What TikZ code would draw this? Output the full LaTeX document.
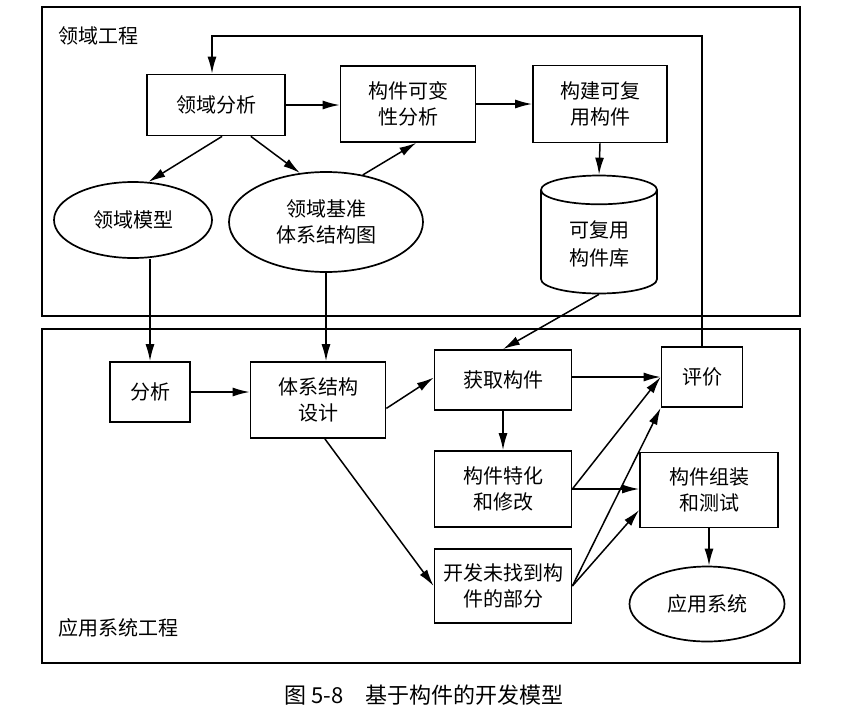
\documentclass[tikz,border=0pt]{standalone}
\usepackage{fontspec}
\newfontfamily\cjk{Noto Sans CJK SC}
\usetikzlibrary{shapes.geometric, arrows.meta, positioning, calc}
\tikzset{
    box/.style={rectangle, draw=black, line width=1.7pt, align=center, font=\cjk\fontsize{20}{26}\selectfont, inner sep=2pt},
    ell/.style={ellipse, draw=black, line width=1.7pt, align=center, font=\cjk\fontsize{20}{26}\selectfont, inner sep=0pt},
    db/.style={cylinder, shape border rotate=90, aspect=0.45, draw=black, line width=1.7pt, align=center, font=\cjk\fontsize{20}{28}\selectfont, inner sep=2pt},
    frame/.style={draw=black, line width=1.7pt},
    lbl/.style={font=\cjk\fontsize{20}{26}\selectfont, inner sep=0pt},
    arr/.style={-{Latex[length=17pt, width=9pt]}, line width=1.5pt}
}

\begin{document}
\begin{tikzpicture}[x=1pt, y=-1pt]
        \useasboundingbox (0,0) rectangle (845,720);

        % two regions
        \draw[frame] (42,7) rectangle (800,316);
        \draw[frame] (42,329) rectangle (800,663);
        \node[lbl, anchor=west] (dom) at (58,36) {领域工程};
        \node[lbl, anchor=west] (app) at (58,628) {应用系统工程};

        % domain engineering
        \node[box, minimum width=138, minimum height=61] (lyfx) at (216,105) {领域分析};
        \node[box, minimum width=135, minimum height=76] (kbx) at (408,104) {构件可变\\性分析};
        \node[box, minimum width=134, minimum height=77] (gjfy) at (600,104) {构建可复\\用构件};
        \node[ell, minimum width=158, minimum height=76] (lymx) at (133,220) {领域模型};
        \node[ell, minimum width=194, minimum height=100] (lyjz) at (326,222) {领域基准\\体系结构图};
        \node[db, minimum width=116, minimum height=118] (lib) at (599,244) {\\[-12pt]可复用\\构件库};

        % application engineering
        \node[box, minimum width=80, minimum height=60] (fx) at (150,392) {分析};
        \node[box, minimum width=135, minimum height=76] (tx) at (318,400) {体系结构\\设计};
        \node[box, minimum width=137, minimum height=60] (hq) at (503,380) {获取构件};
        \node[box, minimum width=81, minimum height=60] (pj) at (702,377) {评价};
        \node[box, minimum width=137, minimum height=76] (tz) at (503,489) {构件特化\\和修改};
        \node[box, minimum width=138, minimum height=75] (zz) at (709,490) {构件组装\\和测试};
        \node[box, minimum width=137, minimum height=74] (kf) at (503,586) {开发未找到构\\件的部分};
        \node[ell, minimum width=155, minimum height=75] (yy) at (707,604) {应用系统};

        \node[lbl, font=\cjk\fontsize{22}{26}\selectfont] (cap) at (424,695) {图 5-8\hspace{1em}基于构件的开发模型};

        \coordinate (fbtop) at (212,36);

        \draw[arr] (pj.north) |- (fbtop) -- (fbtop |- lyfx.north);
        \draw[arr] (lyfx.east) -- (lyfx.east -| kbx.west);
        \draw[arr] (kbx.east) -- (gjfy.west);
        \draw[arr] (gjfy.south) -- (lib.north);
        \draw[arr] (lyfx.-79) -- (lymx.68);
        \draw[arr] (lyfx.-42) -- (lyjz.118);
        \draw[arr] (lyjz.52) -- (kbx.-78);
        \draw[arr] (lymx.south -| fx.north) -- (fx.north);
        \draw[arr] (lyjz.south) -- (lyjz.south |- tx.north);
        \draw[arr] (lib.south) -- (hq.north);
        \draw[arr] (fx.east) -- (fx.east -| tx.west);
        \draw[arr] (tx.-7) -- (hq.178);
        \draw[arr] (tx.-80) -- (kf.west);
        \draw[arr] (hq.south) -- (tz.north);
        \draw[arr] (pj.west -| hq.east) -- (pj.west);
        \draw[arr] (tz.east) -- (pj.west);
        \draw[arr] (tz.east) -- (tz.east -| zz.west);
        \draw[arr] (kf.east) -- (pj.south west);
        \draw[arr] (kf.east) -- (zz.196);
        \draw[arr] (zz.south) -- (zz.south |- yy.north);
    \end{tikzpicture}
\end{document}
